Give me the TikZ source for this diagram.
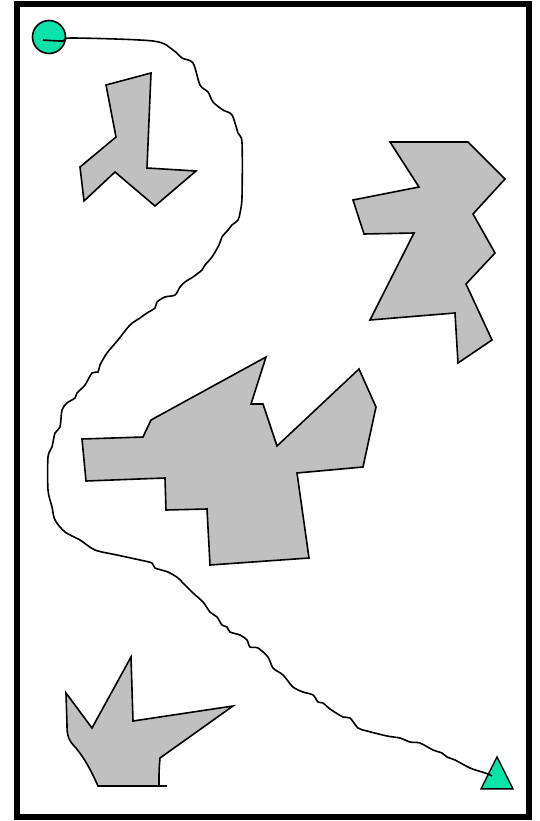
\documentclass[tikz,border=0pt]{standalone}
\usepackage{xcolor}
\usepackage{tikz}
\usetikzlibrary{shapes.geometric, calc}

\definecolor{markgreen}{RGB}{10,226,168}
\definecolor{obstgray}{RGB}{192,192,192}

\begin{document}
\begin{tikzpicture}[
    x=1pt, y=-1pt,
    frame/.style={draw, line width=6pt},
    obstacle/.style={draw, fill=obstgray, line width=1.6pt},
    startmark/.style={circle, draw, fill=markgreen, line width=1.6pt, minimum size=33pt, inner sep=0pt},
    goalmark/.style={isosceles triangle, isosceles triangle stretches, shape border rotate=90, draw, fill=markgreen, line width=1.4pt, minimum width=32pt, minimum height=32pt, inner sep=0pt},
    route/.style={draw, line width=1.6pt},
]
    \useasboundingbox (0,0) rectangle (539,821);
    \draw[frame] (17,4.5) rectangle (529,817);

    \draw[obstacle] (106,85) -- (151,73) -- (147,168) -- (196,171) -- (155,206) -- (115,172) -- (84,201) -- (80,167) -- (116,137) -- cycle;

    \draw[obstacle] (390,142) -- (468,142) -- (505,179) -- (473,214) -- (495,253) -- (466,284) -- (492,340) -- (458,363) -- (455,313) -- (370,320) -- (414,233) -- (364,234) -- (353,200) -- (419,187) -- cycle;

    \draw[obstacle] (82,439) -- (143,437) -- (151,420) -- (266,357) -- (251,404) -- (263,404) -- (277,446) -- (359,369) -- (376,407) -- (363,467) -- (297,473) -- (309,558) -- (210,565) -- (207,509) -- (166,510) -- (165,478) -- (86,481) -- cycle;

    \draw[obstacle] (66,693) -- (92,728) -- (131,657) -- (133,721) -- (233,706) -- (160,758) .. controls (159,770) .. (159,786) -- (167,786) -- (98,786) .. controls (90,768) and (84,758) .. (76,748) .. controls (68,740) and (67,735) .. (67,725) -- cycle;

    \node[startmark] (start) at (49,37) {};
    \node[goalmark] (goal) at (497,779) {};

    \draw[route] plot[smooth, tension=0.5] coordinates {
        ([shift={(-6,3)}]start.center) (63,41) (72,38) (153,41) (173,50) (182,58) (193,63)
        (200,85) (208,92) (213,102) (223,110) (232,115) (238,133) (242,143)
        (242,197) (240,213) (238,220) (232,225) (228,230) (222,237) (219,245)
        (212,257) (205,265) (202,270) (193,277) (185,282) (180,287) (175,295)
        (165,297) (157,302) (155,308) (147,313) (140,318) (130,325) (118,340)
        (107,353) (100,365) (98,372) (92,373) (85,385) (77,393) (75,398)
        (67,403) (62,410) (60,427) (55,433) (52,447) (48,457) (48,490)
        (52,507) (55,520) (65,532) (80,540) (95,550) (117,555) (140,560)
        (152,563) (155,568) (168,572) (178,578) (183,583) (193,593) (203,602)
        (210,612) (217,617) (222,625) (227,627) (230,632) (240,635) (247,640)
        (250,647) (258,648) (268,657) (273,668) (283,675) (293,687) (303,692)
        (313,695) (318,702) (323,703) (330,709) (343,717) (350,718) (358,728)
        (367,731) (387,736) (400,738) (410,742) (420,743) (433,750) (442,753)
        (447,757) (455,760) (470,768) (482,772) (488,774)
        ([shift={(-5,-3)}]goal.center)};
\end{tikzpicture}
\end{document}
